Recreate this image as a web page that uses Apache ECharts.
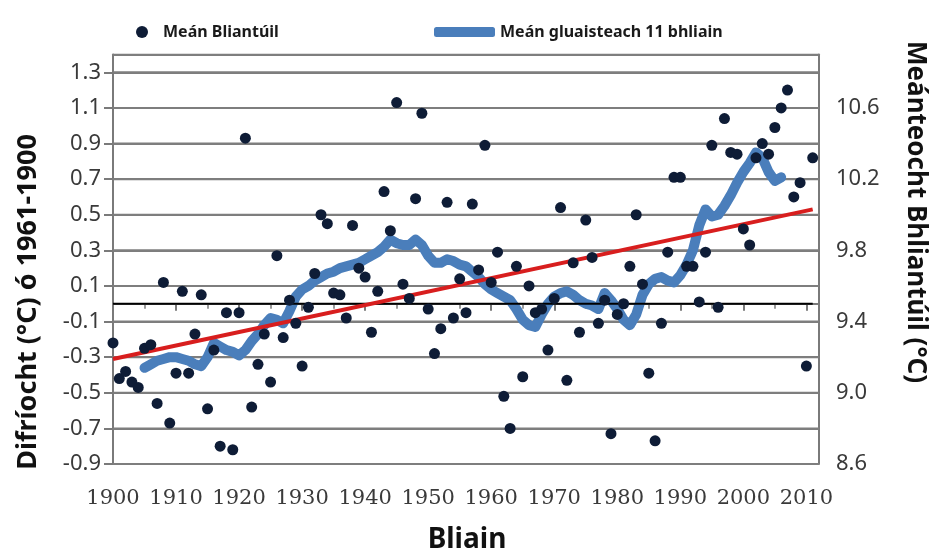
<!DOCTYPE html>
<html>
<head>
<meta charset="utf-8">
<script src="https://cdn.jsdelivr.net/npm/echarts@6/dist/echarts.min.js"></script>
<style>html,body{margin:0;padding:0;background:#fff}#c{width:934px;height:553px}</style>
</head>
<body>
<div id="c"></div>
<script>
// ---- data ----
const years = [];
for (let y = 1900; y <= 2011; y++) years.push(y);
const annualMean = [
 -0.22,-0.42,-0.38,-0.44,-0.47,-0.25,-0.23,-0.56,0.12,-0.67,
 -0.39,0.07,-0.39,-0.17,0.05,-0.59,-0.26,-0.80,-0.05,-0.82,
 -0.05,0.93,-0.58,-0.34,-0.17,-0.44,0.27,-0.19,0.02,-0.11,
 -0.35,-0.02,0.17,0.50,0.45,0.06,0.05,-0.08,0.44,0.20,
 0.15,-0.16,0.07,0.63,0.41,1.13,0.11,0.03,0.59,1.07,
 -0.03,-0.28,-0.14,0.57,-0.08,0.14,-0.05,0.56,0.19,0.89,
 0.12,0.29,-0.52,-0.70,0.21,-0.41,0.10,-0.05,-0.03,-0.26,
 0.03,0.54,-0.43,0.23,-0.16,0.47,0.26,-0.11,0.02,-0.73,
 -0.06,0.00,0.21,0.50,0.11,-0.39,-0.77,-0.11,0.29,0.71,
 0.71,0.21,0.21,0.01,0.29,0.89,-0.02,1.04,0.85,0.84,
 0.42,0.33,0.82,0.90,0.84,0.99,1.10,1.20,0.60,0.68,
 -0.35,0.82
];
const maYears = [];
for (let y = 1905; y <= 2006; y++) maYears.push(y);
const movingAvg = [
 -0.36,-0.34,-0.32,-0.31,-0.30,-0.30,-0.31,-0.32,-0.34,-0.35,
 -0.30,-0.22,-0.24,-0.26,-0.27,-0.29,-0.26,-0.21,-0.17,-0.12,
 -0.08,-0.09,-0.11,-0.04,0.04,0.08,0.10,0.13,0.15,0.17,
 0.18,0.20,0.21,0.22,0.23,0.25,0.27,0.29,0.32,0.36,
 0.34,0.33,0.33,0.36,0.33,0.27,0.23,0.23,0.25,0.24,
 0.22,0.21,0.18,0.15,0.11,0.08,0.06,0.04,0.02,-0.03,
 -0.09,-0.12,-0.13,-0.06,0.00,0.04,0.06,0.07,0.05,0.02,
 0.00,-0.01,-0.03,0.06,0.02,-0.03,-0.09,-0.12,-0.06,0.05,
 0.11,0.14,0.15,0.13,0.12,0.16,0.22,0.30,0.44,0.53,
 0.49,0.50,0.55,0.61,0.68,0.74,0.79,0.85,0.82,0.74,
 0.69,0.71
];
const trendYears = [1900, 2011];
const trendValues = [-0.31, 0.53];
const zeroYears = [1900, 2011];
const zeroValues = [0, 0];
// left-axis tick labels (gridlines drawn at these) and axis range
const leftTicks = [-0.9,-0.7,-0.5,-0.3,-0.1,0.1,0.3,0.5,0.7,0.9,1.1,1.3];
const yMin = -0.9, yMax = 1.4;
const xMin = 1900, xMax = 2012;

const leftTitle = 'Difríocht (°C) ó 1961-1900';
const rightTitle = 'Meánteocht Bhliantúil (°C)';
const xTitle = 'Bliain';
const seriesNames = ['Meán Bliantúil', 'Meán gluaisteach 11 bhliain'];

const pair = (xs, ys) => xs.map((x, i) => [x, ys[i]]);

const axisGray = '#7a7a7a';
const gridGray = '#7e7e7e';
const labelColor = '#3a3a3a';
const font = 'Noto Sans';

const gridSeries = leftTicks.concat([yMax]).map((v, i) => ({
  name: 'grid' + i, type: 'line', data: [[xMin, v], [xMax, v]],
  showSymbol: false, symbol: 'none', z: 2,
  lineStyle: {color: gridGray, width: 2}
}));

const chart = echarts.init(document.getElementById('c'), null, {renderer: 'canvas'});
chart.setOption({
  animation: false,
  backgroundColor: '#fff',
  grid: {left: 113, right: 115, top: 54.5, bottom: 89, containLabel: false},
  legend: [
    {data: [{name: seriesNames[0], icon: 'circle'}], left: 131, top: 19,
     itemWidth: 12, itemHeight: 12,
     textStyle: {fontFamily: font, fontWeight: 'bold', fontSize: 16, color: '#1a1a1a', padding: [0,0,0,10]}},
    {data: [{name: seriesNames[1], icon: 'roundRect'}], left: 429, top: 19,
     itemWidth: 61, itemHeight: 10,
     textStyle: {fontFamily: font, fontWeight: 'bold', fontSize: 16, color: '#1a1a1a', padding: [0,0,0,0]}}
  ],
  xAxis: {
    type: 'value', min: xMin, max: xMax, interval: 10,
    axisLine: {show: true, lineStyle: {color: axisGray, width: 2}},
    axisTick: {show: true, length: 7, lineStyle: {color: axisGray, width: 2}},
    minorTick: {show: true, splitNumber: 2, length: 5, lineStyle: {color: axisGray, width: 1.5}},
    splitLine: {show: false},
    axisLabel: {showMaxLabel: false, fontFamily: 'DejaVu Serif', fontSize: 21, color: labelColor, margin: 24,
      formatter: v => String(v)}
  },
  yAxis: [
    {
      type: 'value', min: yMin, max: yMax, interval: 0.2,
      axisLine: {show: true, lineStyle: {color: axisGray, width: 2}},
      axisTick: {show: true, length: 9, lineStyle: {color: axisGray, width: 2}},
      splitLine: {show: true, lineStyle: {color: gridGray, width: 2}},
      axisLabel: {showMaxLabel: false, fontFamily: font, fontSize: 22, color: labelColor, margin: 12,
        formatter: v => v.toFixed(1)}
    },
    {
      type: 'value', min: 8.6, max: 10.9, interval: 0.4, position: 'right',
      axisLine: {show: true, lineStyle: {color: axisGray, width: 2}},
      axisTick: {show: false},
      splitLine: {show: false},
      axisLabel: {showMaxLabel: false, fontFamily: font, fontSize: 22, color: labelColor, margin: 17,
        formatter: v => v.toFixed(1)}
    }
  ],
  series: gridSeries.concat([
    {
      name: seriesNames[1], type: 'line', data: pair(maYears, movingAvg),
      showSymbol: false, symbol: 'none', z: 3,
      lineStyle: {color: '#4a7ebb', width: 10, cap: 'round', join: 'round'},
      itemStyle: {color: '#4a7ebb'}
    },
    {
      name: 'zero', type: 'line', data: pair(zeroYears, zeroValues),
      showSymbol: false, symbol: 'none', z: 4,
      lineStyle: {color: '#000', width: 2}
    },
    {
      name: 'trend', type: 'line', data: pair(trendYears, trendValues),
      showSymbol: false, symbol: 'none', z: 5,
      lineStyle: {color: '#d81e1e', width: 4}
    },
    {
      name: seriesNames[0], type: 'scatter', data: pair(years, annualMean),
      symbolSize: 11, z: 6,
      itemStyle: {color: '#0e1c36', opacity: 1}
    }
  ]),
  graphic: [
    {type: 'text', x: 28, y: 302, rotation: Math.PI / 2,
     style: {text: leftTitle, fontFamily: font, fontWeight: 'bold', fontSize: 27, fill: '#111',
       textAlign: 'center', textVerticalAlign: 'middle'}},
    {type: 'text', x: 915, y: 212, rotation: -Math.PI / 2,
     style: {text: rightTitle, fontFamily: font, fontWeight: 'bold', fontSize: 26, fill: '#111',
       textAlign: 'center', textVerticalAlign: 'middle'}},
    {type: 'text', x: 467, y: 540,
     style: {text: xTitle, fontFamily: font, fontWeight: 'bold', fontSize: 28, fill: '#111',
       textAlign: 'center', textVerticalAlign: 'middle'}}
  ]
});
</script>
</body>
</html>
